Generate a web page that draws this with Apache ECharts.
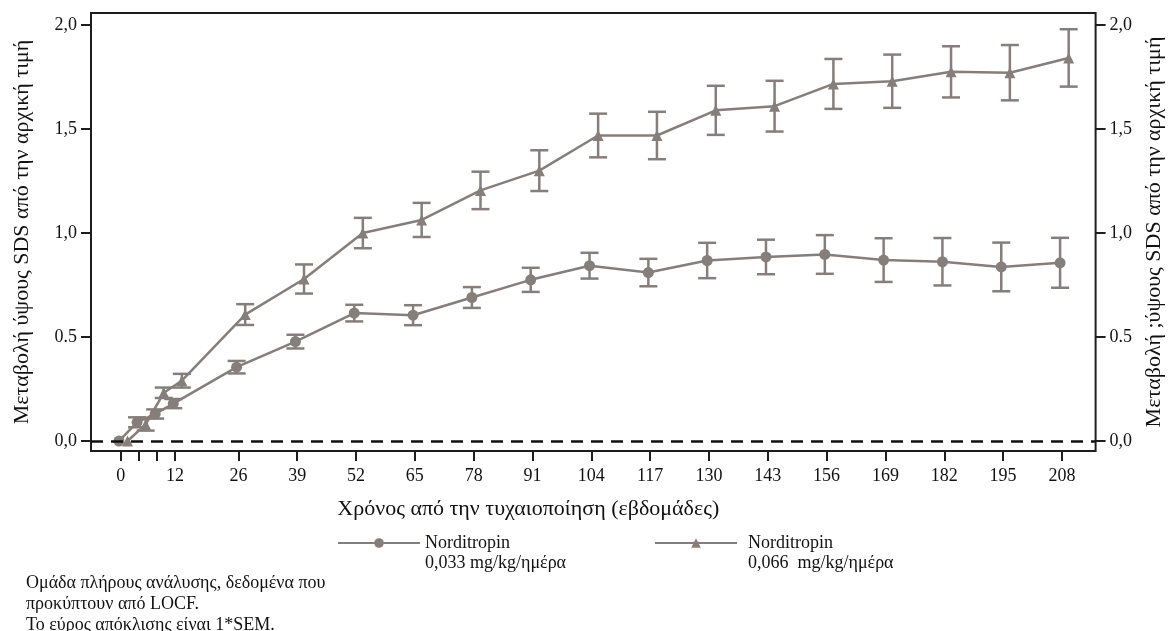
<!DOCTYPE html>
<html>
<head>
<meta charset="utf-8">
<script src="https://cdn.jsdelivr.net/npm/echarts@6/dist/echarts.min.js"></script>
<style>
  html, body { margin: 0; padding: 0; background: #fff; }
  #chart { width: 1173px; height: 631px; }
</style>
</head>
<body>
<div id="chart"></div>
<script>
// weeks since randomisation
const weeks = [0, 4, 8, 12, 26, 39, 52, 65, 78, 91, 104, 117, 130, 143, 156, 169, 182, 195, 208]

// Norditropin 0,033 mg/kg/day (circles)
const lowMean = [0, 0.09, 0.13, 0.18, 0.355, 0.478, 0.615, 0.605, 0.69, 0.775, 0.843, 0.81, 0.868, 0.885, 0.897, 0.87, 0.862, 0.837, 0.857]
const lowSem = [0, 0.024, 0.022, 0.022, 0.03, 0.033, 0.04, 0.048, 0.05, 0.058, 0.062, 0.066, 0.085, 0.083, 0.093, 0.105, 0.114, 0.117, 0.12]

// Norditropin 0,066 mg/kg/day (triangles)
const highMean = [0, 0.08, 0.232, 0.29, 0.608, 0.779, 1.0, 1.063, 1.205, 1.3, 1.469, 1.469, 1.59, 1.61, 1.717, 1.73, 1.775, 1.771, 1.842]
const highSem = [0, 0.03, 0.025, 0.033, 0.05, 0.07, 0.073, 0.082, 0.09, 0.098, 0.105, 0.114, 0.118, 0.122, 0.12, 0.128, 0.123, 0.133, 0.138]

const xLabelWeeks = [0, 12, 26, 39, 52, 65, 78, 91, 104, 117, 130, 143, 156, 169, 182, 195, 208]
const xTickWeeks = [0, 4, 8, 12, 26, 39, 52, 65, 78, 91, 104, 117, 130, 143, 156, 169, 182, 195, 208]
const yTickValues = [0, 0.5, 1, 1.5, 2]
const yTickLabels = ['0,0', '0.5', '1,0', '1,5', '2,0']

const names = ['Norditropin\n0,033 mg/kg/ημέρα', 'Norditropin\n0,066  mg/kg/ημέρα']
const yTitle = 'Μεταβολή ύψους SDS από την αρχική τιμή'
const yTitleRight = 'Μεταβολή ;ύψους SDS από την αρχική τιμή'
const xTitle = 'Χρόνος από την τυχαιοποίηση (εβδομάδες)'
const footnote = 'Ομάδα πλήρους ανάλυσης, δεδομένα που\nπροκύπτουν από LOCF.\nΤο εύρος απόκλισης είναι 1*SEM.'

const GREY = '#867e7a'
const FONT = '"Liberation Serif", "DejaVu Serif", serif'
// small horizontal dodge so the two groups do not overlap
const dodge = [-0.4, 1.5]

const chart = echarts.init(document.getElementById('chart'))

function pts(mean, off) {
  return weeks.map((w, i) => [w + off, mean[i]])
}
function bars(mean, sem, off) {
  return weeks.map((w, i) => [w + off, mean[i] - sem[i], mean[i] + sem[i]])
}

function renderErr(params, api) {
  const x = api.value(0)
  const top = api.coord([x, api.value(2)])
  const bot = api.coord([x, api.value(1)])
  if (Math.abs(top[1] - bot[1]) < 1) return null
  const hw = 9
  const st = { stroke: GREY, lineWidth: 2.5 }
  return {
    type: 'group',
    children: [
      { type: 'line', shape: { x1: top[0], y1: top[1], x2: bot[0], y2: bot[1] }, style: st },
      { type: 'line', shape: { x1: top[0] - hw, y1: top[1], x2: top[0] + hw, y2: top[1] }, style: st },
      { type: 'line', shape: { x1: bot[0] - hw, y1: bot[1], x2: bot[0] + hw, y2: bot[1] }, style: st }
    ]
  }
}

const yAxisBase = {
  type: 'value',
  min: -0.048,
  max: 2.058,
  splitLine: { show: false },
  axisLine: { show: false, onZero: false },
  axisTick: { show: true, length: 10, customValues: yTickValues, lineStyle: { color: '#1e1e1e', width: 2 } },
  axisLabel: {
    customValues: yTickValues,
    formatter: v => yTickLabels[yTickValues.indexOf(v)],
    fontFamily: FONT, fontSize: 18, color: '#111', margin: 14
  },
  name: yTitle,
  nameLocation: 'middle',
  nameRotate: 90,
  nameTextStyle: { fontFamily: FONT, fontSize: 22, color: '#111' }
}

const legendBase = {
  orient: 'horizontal',
  padding: 0,
  itemWidth: 82,
  itemHeight: 12,
  selectedMode: false,
  // blank first line keeps the label's first row level with the icon
  formatter: n => ' \n' + n,
  textStyle: { fontFamily: FONT, fontSize: 18, color: '#111', lineHeight: 20 }
}

chart.setOption({
  animation: false,
  grid: {
    left: 91, right: 69, top: 13, bottom: 180,
    show: true, borderColor: '#1e1e1e', borderWidth: 2
  },
  xAxis: {
    type: 'value',
    min: -6.58,
    max: 215.45,
    splitLine: { show: false },
    axisLine: { show: false, onZero: false },
    axisTick: { show: true, length: 10, customValues: xTickWeeks, lineStyle: { color: '#1e1e1e', width: 2 } },
    axisLabel: { customValues: xLabelWeeks, fontFamily: FONT, fontSize: 18, color: '#111', margin: 16 },
    name: xTitle,
    nameLocation: 'middle',
    nameGap: 47,
    nameTextStyle: { fontFamily: FONT, fontSize: 22, color: '#111', padding: [0, 130, 0, 0] }
  },
  yAxis: [
    { ...yAxisBase, position: 'left', nameGap: 58 },
    { ...yAxisBase, position: 'right', name: yTitleRight, nameGap: 44 }
  ],
  legend: [
    { ...legendBase, left: 337, top: 513, data: [names[0]] },
    { ...legendBase, left: 654, top: 510, data: [names[1]],
      textStyle: { ...legendBase.textStyle, padding: [6, 0, 0, 6] } }
  ],
  graphic: [{
    type: 'text',
    left: 26,
    top: 573,
    style: { text: footnote, fontFamily: FONT, fontSize: 18, lineHeight: 21, fill: '#111' }
  }],
  series: [
    {
      name: names[0],
      type: 'line',
      data: pts(lowMean, dodge[0]),
      symbol: 'circle',
      symbolSize: 11,
      lineStyle: { color: GREY, width: 2.5 },
      itemStyle: { color: GREY },
      z: 3,
      markLine: {
        silent: true,
        symbol: 'none',
        label: { show: false },
        lineStyle: { color: '#111', width: 2.5, type: [12, 8] },
        data: [{ yAxis: 0 }]
      }
    },
    {
      name: names[1],
      type: 'line',
      data: pts(highMean, dodge[1]),
      symbol: 'triangle',
      symbolSize: 11,
      lineStyle: { color: GREY, width: 2.5 },
      itemStyle: { color: GREY },
      z: 3
    },
    {
      type: 'custom',
      renderItem: renderErr,
      data: bars(lowMean, lowSem, dodge[0]),
      encode: { x: 0, y: [1, 2] },
      z: 2
    },
    {
      type: 'custom',
      renderItem: renderErr,
      data: bars(highMean, highSem, dodge[1]),
      encode: { x: 0, y: [1, 2] },
      z: 2
    }
  ]
})
</script>
</body>
</html>
